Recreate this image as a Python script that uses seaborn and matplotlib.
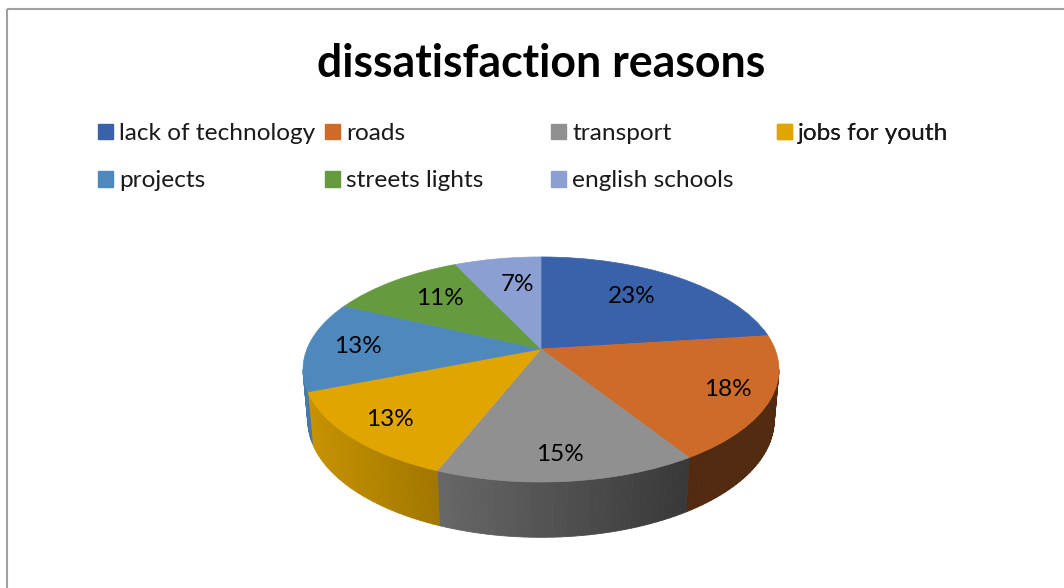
# Import the packages
import numpy as np
import matplotlib
matplotlib.use("Agg")
import matplotlib.pyplot as plt
import matplotlib.transforms as mtransforms
from matplotlib.patches import Patch, Rectangle
import seaborn as sns

# Chart data
reasons = ["lack of technology", "roads", "transport", "jobs for youth",
           "projects", "streets lights", "english schools"]
shares = [23, 18, 15, 13, 13, 11, 7]
colors = ["#3A62AA", "#CF6B29", "#909090", "#E0A500",
          "#4E88BC", "#659B3E", "#8C9FD3"]

# Where each percent label sits on its slice
label_radius = [0.68, 0.825, 0.825, 0.815, 0.785, 0.69, 0.67]
label_turn = [2.5, 0, -0.5, 0, 0, -2, -3]

# Tilt of the pie (pixels, the axes below run in figure pixels)
apex_x, apex_y = 541, 349
tilt = 0.182
width_scale, height_scale = 234, 108.8


def project(u, v):
    w = 1 + tilt * v
    return apex_x + width_scale * u / w, apex_y - height_scale * v / w


class Tilted(mtransforms.Transform):
    input_dims = 2
    output_dims = 2

    def transform_non_affine(self, values):
        x, y = project(values[:, 0], values[:, 1])
        return np.column_stack([x, y])


def wall_shade(x):
    return np.clip(0.89 - (x - 311) * 0.00133, 0.39, 1.0)


sns.set_theme(style="white")
plt.rcParams["font.family"] = ["Lato", "DejaVu Sans"]
palette = sns.color_palette(colors)

fig = plt.figure(figsize=(10.64, 5.88), dpi=100)
ax = fig.add_axes([0, 0, 1, 1])

# Top of the pie
wedges, _, pct_texts = ax.pie(
    shares,
    colors=palette,
    startangle=90,
    counterclock=False,
    autopct="%d%%",
    textprops={"fontsize": 17.5, "color": "black"},
    wedgeprops={"linewidth": 0.5})

ax.set_aspect("auto")
ax.set_xlim(0, 1064)
ax.set_ylim(588, 0)
ax.axis("off")

tilted = Tilted() + ax.transData
for i, (wedge, text) in enumerate(zip(wedges, pct_texts)):
    wedge.set_transform(tilted)
    wedge.set_edgecolor(palette[i])
    wedge.set_zorder(3)
    mid = np.radians((wedge.theta1 + wedge.theta2) / 2 + label_turn[i])
    text.set_transform(tilted)
    text.set_position((label_radius[i] * np.cos(mid), label_radius[i] * np.sin(mid)))
    text.set_zorder(4)

# Side wall, front half only
rim_right = -10.5
rim_left = -169.5
for wedge, color in zip(wedges, palette):
    start = np.clip(wedge.theta1, rim_left, rim_right)
    stop = np.clip(wedge.theta2, rim_left, rim_right)
    if stop <= start:
        continue
    steps = np.linspace(start, stop, int((stop - start) / 1.5) + 2)
    for a, b in zip(steps[:-1], steps[1:]):
        t = np.radians([a, b])
        x_top, y_top = project(np.cos(t), np.sin(t))
        x_low = apex_x + (x_top - apex_x) * 0.98
        y_low = apex_y + (y_top - apex_y) * 1.04 + 50
        shade = wall_shade(x_low.mean())
        strip = tuple(c * shade for c in color)
        ax.fill(
            [x_top[0], x_top[1], x_low[1], x_low[0]],
            [y_top[0], y_top[1], y_low[1], y_low[0]],
            color=strip, linewidth=0.6, zorder=2)

# Chart frame (runs off the right and bottom of the picture)
ax.add_patch(Rectangle((7, 9), 1200, 800, fill=False,
                       edgecolor="#A0A0A0", linewidth=1.5, zorder=1))

# Title
ax.text(541, 64, "dissatisfaction reasons", ha="center", va="center",
        fontsize=32.1, fontweight="bold", color="black")

# Legend, one block per column so the columns are evenly spaced
for col, left in enumerate([98, 325, 551, 777]):
    picks = range(col, len(reasons), 4)
    handles = [Patch(color=palette[i]) for i in picks]
    labels = [reasons[i] for i in picks]
    legend = ax.legend(
        handles, labels,
        loc="upper left",
        bbox_to_anchor=(left, 123),
        bbox_transform=ax.transData,
        frameon=False,
        fontsize=17.6,
        borderpad=0,
        borderaxespad=0,
        handlelength=0.6,
        handleheight=0.6,
        handletextpad=0.27,
        labelspacing=1.08)
    for text in legend.get_texts():
        text.set_color("#1A1A1A")
    ax.add_artist(legend)

fig.savefig("out.png", dpi=100)
